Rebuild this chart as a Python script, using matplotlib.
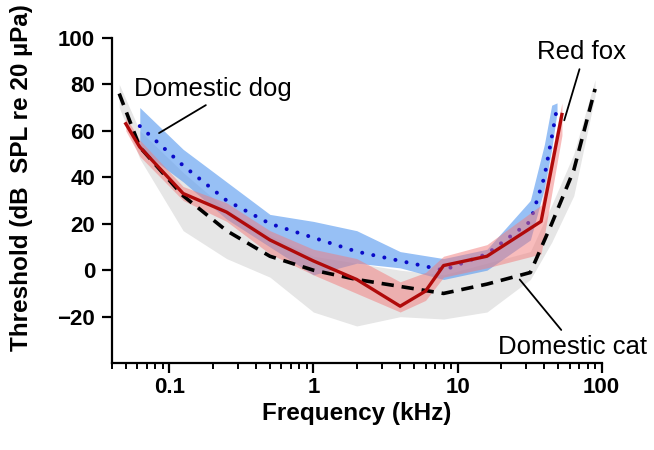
import matplotlib
matplotlib.use("Agg")
import matplotlib.pyplot as plt
from matplotlib.ticker import LogLocator, FixedLocator, FixedFormatter, NullFormatter

plt.rcParams['font.family'] = ['Liberation Sans', 'DejaVu Sans']

# Domestic cat (dashed, gray band)
cat_f = [0.045, 0.0625, 0.125, 0.25, 0.5, 1, 2, 4, 8, 16, 32, 45, 64, 90]
cat_mean = [76, 53, 32, 17, 6, 0, -4, -7, -10, -6, -1, 20, 43, 78]
cat_lo = [70, 48, 17, 5, -3, -18, -24, -20, -21, -18, -4, 12, 32, 75]
cat_hi = [80, 60, 42, 26, 15, 6, 3, 0, -2, 3, 8, 28, 50, 82]

# Domestic dog (dotted, blue band)
dog_f = [0.0625, 0.125, 0.25, 0.5, 1, 2, 4, 8, 16, 32, 40, 45, 49]
dog_mean = [62, 45, 30, 20, 14, 8, 4, 0, 7, 21, 40, 57, 70]
dog_lo = [52, 38, 22, 10, -2, 3, 1, -4, 0, 13, 35, 52, 68]
dog_hi = [70, 52, 38, 24, 21, 17, 8, 5, 9, 30, 54, 71, 72]

# Red fox (solid, red band)
fox_f = [0.05, 0.0625, 0.125, 0.25, 0.5, 1, 2, 4, 6, 8, 16, 38, 53]
fox_mean = [63, 53, 33, 25, 13, 4, -4, -15.5, -9, 2, 6, 21, 67]
fox_lo = [60, 49, 30, 21, 7, -2, -10, -18, -13, -3, 1, 7, 58]
fox_hi = [66, 56, 36, 29, 17, 9, 5, -5, -1, 6, 11, 28, 72]

xticks = [0.1, 1, 10, 100]
xticklabels = ['0.1', '1', '10', '100']
yticks = [-20, 0, 20, 40, 60, 80, 100]
yticklabels = ['\u221220', '0', '20', '40', '60', '80', '100']

fig = plt.figure(figsize=(6.54, 4.5), dpi=100)
ax = fig.add_axes([0.171, 0.193, 0.749, 0.723])

ax.fill_between(cat_f, cat_lo, cat_hi, color='#e6e6e6', lw=0, zorder=1)
ax.fill_between(dog_f, dog_lo, dog_hi, color='#5f9ef0', alpha=0.65, lw=0, zorder=2)
ax.plot(dog_f, dog_mean, color='#0a0ac8', ls=(0, (0.01, 2.8)), lw=2.9,
        dash_capstyle='round', zorder=3)
ax.fill_between(fox_f, fox_lo, fox_hi, color='#f27a7a', alpha=0.5, lw=0, zorder=4)
ax.plot(cat_f, cat_mean, color='black', ls=(0, (3.4, 2.2)), lw=2.6, zorder=5)
ax.plot(fox_f, fox_mean, color='#b00a0a', lw=2.4, zorder=6)

ax.set_xscale('log')
ax.set_xlim(0.04, 100)
ax.set_ylim(-40, 100)
ax.xaxis.set_major_locator(FixedLocator(xticks))
ax.xaxis.set_major_formatter(FixedFormatter(xticklabels))
ax.xaxis.set_minor_locator(LogLocator(base=10, subs=range(2, 10), numticks=20))
ax.xaxis.set_minor_formatter(NullFormatter())
ax.yaxis.set_major_locator(FixedLocator(yticks))
ax.yaxis.set_major_formatter(FixedFormatter(yticklabels))

for s in ['top', 'right']:
    ax.spines[s].set_visible(False)
for s in ['left', 'bottom']:
    ax.spines[s].set_linewidth(1.6)
ax.tick_params(axis='both', which='major', width=1.6, length=7, labelsize=16)
ax.tick_params(axis='y', which='major', pad=5)
ax.tick_params(axis='x', which='major', pad=3)
ax.tick_params(axis='x', which='minor', width=1.4, length=4)
for lab in ax.get_xticklabels() + ax.get_yticklabels():
    lab.set_fontweight('bold')

ax.set_xlabel('Frequency (kHz)', fontsize=17.5, fontweight='bold', labelpad=3)
ax.set_ylabel('Threshold (dB  SPL re 20 \u00b5Pa)', fontsize=17.5, fontweight='bold')
ax.yaxis.set_label_coords(-0.16, 0.57)

ax.annotate('Domestic dog', xy=(0.085, 59), xytext=(0.057, 78),
            fontsize=18.5, ha='left', va='center',
            arrowprops=dict(arrowstyle='-', color='black', lw=1.3,
                            shrinkA=2, shrinkB=0, relpos=(0.5, 0)),
            zorder=10)
ax.annotate('Red fox', xy=(55, 64.5), xytext=(72, 94),
            fontsize=18.5, ha='center', va='center',
            arrowprops=dict(arrowstyle='-', color='black', lw=1.3,
                            shrinkA=2, shrinkB=0, relpos=(0.5, 0)),
            zorder=10)
ax.annotate('Domestic cat', xy=(27, -4), xytext=(63, -33),
            fontsize=18.5, ha='center', va='center', annotation_clip=False,
            arrowprops=dict(arrowstyle='-', color='black', lw=1.3,
                            shrinkA=2, shrinkB=0, relpos=(0.45, 1)),
            zorder=10)

fig.savefig('out.png', dpi=100)
